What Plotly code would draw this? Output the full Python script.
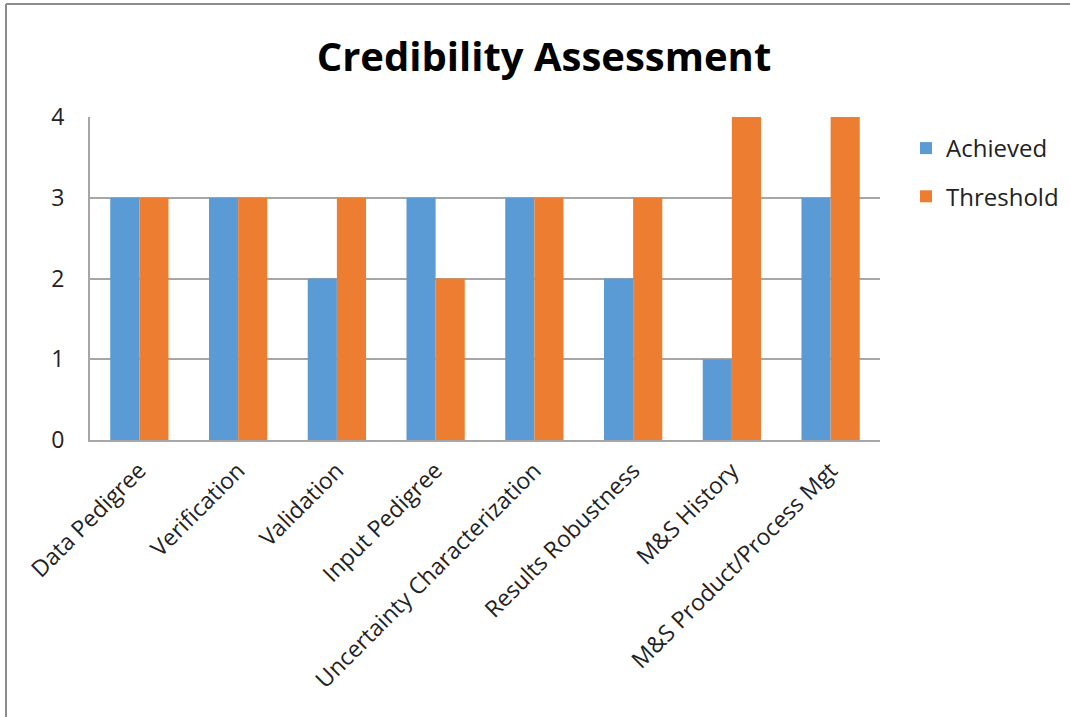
import plotly.graph_objects as go

categories = ["Data Pedigree", "Verification", "Validation", "Input Pedigree",
              "Uncertainty Characterization", "Results Robustness", "M&S History",
              "M&S Product/Process Mgt"]
achieved = [3, 3, 2, 3, 3, 2, 1, 3]
threshold = [3, 3, 3, 2, 3, 3, 4, 4]
y_ticks = [0, 1, 2, 3, 4]

W, H = 1070, 717
L, R, T, B = 90, 880, 117, 440

fig = go.Figure()
fig.add_trace(go.Bar(x=categories, y=achieved, name="Achieved", legendgroup="a",
                     marker=dict(color="#5B9BD5", line=dict(width=0))))
fig.add_trace(go.Bar(x=categories, y=threshold, name="Threshold", legendgroup="b",
                     marker=dict(color="#ED7D31", line=dict(width=0))))

font = "Open Sans, Liberation Sans, sans-serif"
fig.update_layout(
    width=W, height=H,
    margin=dict(l=L, r=W - R, t=T, b=H - B, autoexpand=False),
    paper_bgcolor="white", plot_bgcolor="white",
    barmode="group", bargap=0.41, bargroupgap=0,
    title=dict(text="<b>Credibility Assessment</b>", x=544 / W, xanchor="center",
               y=1 - 57 / H, yanchor="middle",
               font=dict(family=font, size=40, color="black")),
    font=dict(family=font, color="#222222"),
    legend=dict(x=(906 - L) / (R - L), xanchor="left", y=(B - 126) / (B - T), yanchor="top",
                font=dict(size=24, color="#222222"), traceorder="grouped",
                tracegroupgap=14, itemwidth=30, bgcolor="rgba(0,0,0,0)"),
    xaxis=dict(tickangle=-45, tickfont=dict(size=23, color="#222222"),
               showline=True, linecolor="#A6A6A6", linewidth=2, ticks="",
               showgrid=False, ticklabelstandoff=6),
    yaxis=dict(range=[0, 4], tickvals=y_ticks, tickfont=dict(size=23, color="#222222"),
               showline=True, linecolor="#A6A6A6", linewidth=2, ticks="",
               gridcolor="#A6A6A6", gridwidth=1.5, zeroline=False,
               ticklabelstandoff=19),
    showlegend=True,
)

# outer chart border (top and left edges visible)
x6 = (6 - L) / (R - L)
y4 = (B - 4) / (B - T)
fig.add_shape(type="line", xref="paper", yref="paper", x0=x6, x1=(W - L) / (R - L) + 0.1,
              y0=y4, y1=y4, line=dict(color="#8C8C8C", width=2))
fig.add_shape(type="line", xref="paper", yref="paper", x0=x6, x1=x6,
              y0=y4, y1=(B - H) / (B - T) - 0.1, line=dict(color="#8C8C8C", width=2))

fig.write_html("out.html", config={"displayModeBar": False},
               post_script="document.body.style.margin='0';document.body.style.overflow='hidden';")
